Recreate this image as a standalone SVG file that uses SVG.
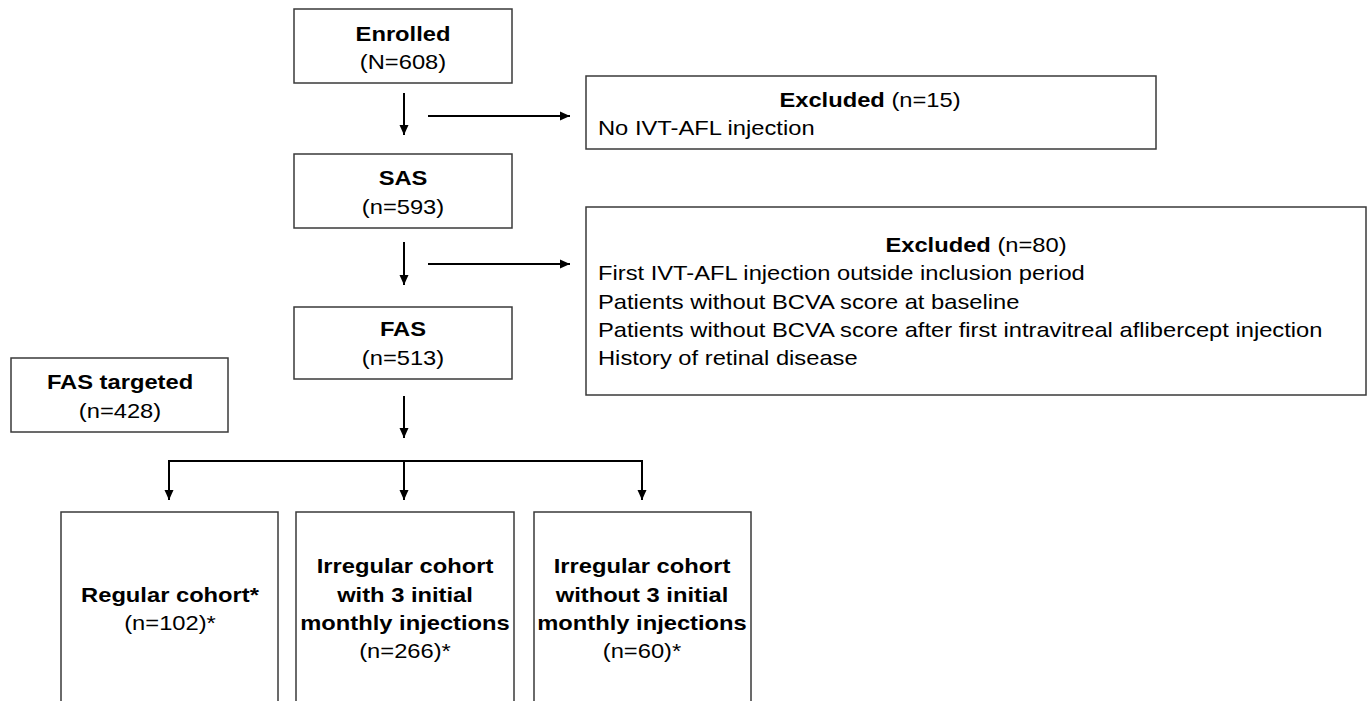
<svg xmlns="http://www.w3.org/2000/svg" width="1368" height="701" viewBox="0 0 1368 701">
  <style>
    .box { fill: #ffffff; stroke: #3a3a3a; stroke-width: 1.5; }
    .t { font-family: "Liberation Sans", Arial, sans-serif; font-size: 21px; fill: #000000; }
    .c { text-anchor: middle; }
    .b { font-weight: bold; }
    .link { fill: none; stroke: #000000; stroke-width: 2; }
  </style>
  <defs>
    <marker id="head" markerUnits="userSpaceOnUse" markerWidth="12" markerHeight="12" viewBox="0 0 12 12" refX="11" refY="6" orient="auto">
      <path d="M1,1.5 L11,6 L1,10.5 Z" fill="#000000"/>
    </marker>
  </defs>
  <rect width="1368" height="701" fill="#ffffff"/>

  <!-- text is drawn slightly wide: each label uses a horizontal scale of 1.13 about its anchor -->
  <g id="enrolled">
    <rect class="box" x="294" y="9" width="218" height="74"/>
    <text class="t c b" transform="matrix(1.13,0,0,1,403,41)">Enrolled</text>
    <text class="t c" transform="matrix(1.13,0,0,1,403,69)">(N=608)</text>
  </g>

  <g id="sas">
    <rect class="box" x="294" y="154" width="218" height="74"/>
    <text class="t c b" transform="matrix(1.13,0,0,1,403,185)">SAS</text>
    <text class="t c" transform="matrix(1.13,0,0,1,403,214)">(n=593)</text>
  </g>

  <g id="fas">
    <rect class="box" x="294" y="307" width="218" height="72"/>
    <text class="t c b" transform="matrix(1.13,0,0,1,403,336)">FAS</text>
    <text class="t c" transform="matrix(1.13,0,0,1,403,365)">(n=513)</text>
  </g>

  <g id="fas-targeted">
    <rect class="box" x="11" y="358" width="217" height="74"/>
    <text class="t c b" transform="matrix(1.13,0,0,1,120,389)">FAS targeted</text>
    <text class="t c" transform="matrix(1.13,0,0,1,120,418)">(n=428)</text>
  </g>

  <g id="excluded-1">
    <rect class="box" x="586" y="76" width="570" height="73"/>
    <text class="t c" transform="matrix(1.13,0,0,1,870,107)"><tspan class="b">Excluded</tspan> (n=15)</text>
    <text class="t" transform="matrix(1.13,0,0,1,598,135)">No IVT-AFL injection</text>
  </g>

  <g id="excluded-2">
    <rect class="box" x="586" y="207" width="780" height="188"/>
    <text class="t c" transform="matrix(1.13,0,0,1,976,252)"><tspan class="b">Excluded</tspan> (n=80)</text>
    <text class="t" transform="matrix(1.13,0,0,1,598,280)">First IVT-AFL injection outside inclusion period</text>
    <text class="t" transform="matrix(1.13,0,0,1,598,309)">Patients without BCVA score at baseline</text>
    <text class="t" transform="matrix(1.13,0,0,1,598,337)">Patients without BCVA score after first intravitreal aflibercept injection</text>
    <text class="t" transform="matrix(1.13,0,0,1,598,365)">History of retinal disease</text>
  </g>

  <g id="regular-cohort">
    <rect class="box" x="61" y="512" width="217" height="200"/>
    <text class="t c b" transform="matrix(1.13,0,0,1,170,602)">Regular cohort*</text>
    <text class="t c" transform="matrix(1.13,0,0,1,170,630)">(n=102)*</text>
  </g>

  <g id="irregular-with">
    <rect class="box" x="296" y="512" width="218" height="200"/>
    <text class="t c b" transform="matrix(1.13,0,0,1,405,573)">Irregular cohort</text>
    <text class="t c b" transform="matrix(1.13,0,0,1,405,602)">with 3 initial</text>
    <text class="t c b" transform="matrix(1.13,0,0,1,405,630)">monthly injections</text>
    <text class="t c" transform="matrix(1.13,0,0,1,405,658)">(n=266)*</text>
  </g>

  <g id="irregular-without">
    <rect class="box" x="534" y="512" width="217" height="200"/>
    <text class="t c b" transform="matrix(1.13,0,0,1,642,573)">Irregular cohort</text>
    <text class="t c b" transform="matrix(1.13,0,0,1,642,602)">without 3 initial</text>
    <text class="t c b" transform="matrix(1.13,0,0,1,642,630)">monthly injections</text>
    <text class="t c" transform="matrix(1.13,0,0,1,642,658)">(n=60)*</text>
  </g>

  <g id="connectors">
    <line class="link" x1="404" y1="93" x2="404" y2="135" marker-end="url(#head)"/>
    <line class="link" x1="428" y1="116" x2="570" y2="116" marker-end="url(#head)"/>
    <line class="link" x1="404" y1="242" x2="404" y2="285" marker-end="url(#head)"/>
    <line class="link" x1="428" y1="264" x2="570" y2="264" marker-end="url(#head)"/>
    <line class="link" x1="404" y1="396" x2="404" y2="438" marker-end="url(#head)"/>
    <polyline class="link" points="169,500 169,461 642,461 642,500" marker-end="url(#head)"/>
    <line class="link" x1="169" y1="461" x2="169" y2="500" marker-end="url(#head)"/>
    <line class="link" x1="404" y1="461" x2="404" y2="500" marker-end="url(#head)"/>
  </g>
</svg>
